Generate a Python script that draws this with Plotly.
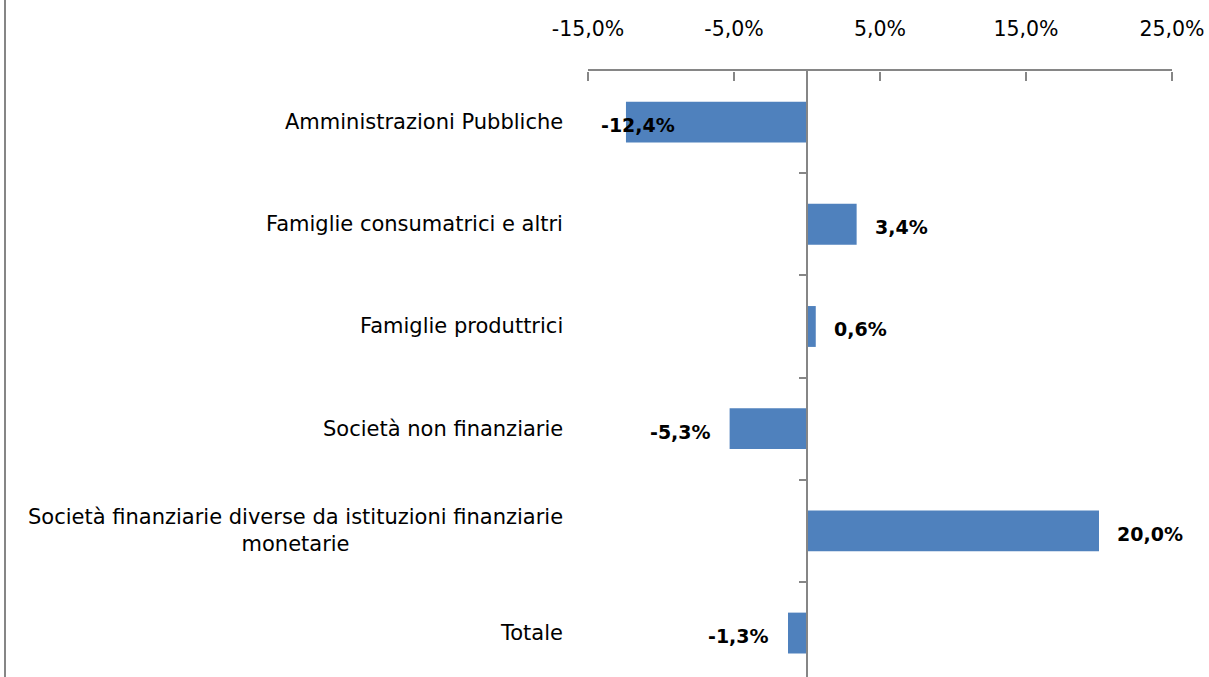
import plotly.graph_objects as go

categories = [
    "Amministrazioni Pubbliche",
    "Famiglie consumatrici e altri",
    "Famiglie produttrici",
    "Società non finanziarie",
    "Società finanziarie diverse da istituzioni finanziarie<br>monetarie",
    "Totale",
]
values = [-12.4, 3.4, 0.6, -5.3, 20.0, -1.3]
tick_values = [-15, -5, 5, 15, 25]
x_min, x_max = -15, 25


def fmt(v):
    return f"{v:.1f}".replace(".", ",") + "%"


tick_text = [fmt(v) for v in tick_values]

W, H = 1209, 677
ML, MR, MT, MB = 588, 37, 71, 0
AXIS_GRAY = "#868686"
BAR_COLOR = "#4F81BD"
FONT = "DejaVu Sans"

fig = go.Figure()
fig.add_trace(go.Bar(
    x=values,
    y=list(range(len(categories))),
    orientation="h",
    width=0.4,
    marker=dict(color=BAR_COLOR, line=dict(width=0)),
    hoverinfo="skip",
))
# invisible trace carrying the tick-mark axis (ticks pointing into the plot)
fig.add_trace(go.Scatter(
    x=values, y=list(range(len(categories))), xaxis="x2", yaxis="y",
    mode="none", showlegend=False, hoverinfo="skip",
))

annotations = []
# category labels
for i, c in enumerate(categories):
    annotations.append(dict(
        x=0, xref="paper", y=i, yref="y", text=c, showarrow=False,
        xanchor="right", yanchor="middle", align="center", xshift=-23,
        font=dict(family=FONT, size=21, color="#000000"),
    ))
# data labels
for i, v in enumerate(values):
    if v >= 0:
        ax, anchor, shift = v, "left", 16
    elif v < x_min + 5:
        ax, anchor, shift = x_min, "left", 11
    else:
        ax, anchor, shift = v, "right", -17
    annotations.append(dict(
        x=ax, xref="x", y=i, yref="y", text="<b>" + fmt(v) + "</b>",
        showarrow=False, xanchor=anchor, yanchor="middle", xshift=shift,
        yshift=-3, font=dict(family=FONT, size=19, color="#000000"),
    ))

plot_w = W - ML - MR
plot_h = H - MT - MB
fig.update_layout(
    width=W, height=H,
    margin=dict(l=ML, r=MR, t=MT, b=MB, pad=0),
    paper_bgcolor="white", plot_bgcolor="white",
    showlegend=False,
    font=dict(family=FONT, size=20, color="#000000"),
    annotations=annotations,
    xaxis=dict(
        side="top", range=[x_min, x_max],
        tickvals=tick_values, ticktext=tick_text,
        showgrid=False, zeroline=False, showline=True, linecolor=AXIS_GRAY,
        linewidth=1.5, ticks="", ticklabelstandoff=25,
        tickfont=dict(family=FONT, size=20.5, color="#000000"),
        domain=[0, 1],
    ),
    xaxis2=dict(
        overlaying="x", matches="x", anchor="free", position=1, side="bottom",
        range=[x_min, x_max], tickvals=tick_values, showticklabels=False,
        showgrid=False, zeroline=False, showline=False,
        ticks="outside", ticklen=9, tickcolor=AXIS_GRAY, tickwidth=1.5,
    ),
    yaxis=dict(
        range=[5.43, -0.5], tickmode="array",
        tickvals=[i + 0.5 for i in range(len(categories) - 1)],
        showticklabels=False, showgrid=False, zeroline=False,
        anchor="free", position=(0 - x_min) / (x_max - x_min),
        showline=True, linecolor=AXIS_GRAY, linewidth=1.5,
        ticks="outside", ticklen=7, tickcolor=AXIS_GRAY, tickwidth=1.5,
    ),
    shapes=[dict(
        type="line", xref="paper", yref="paper",
        x0=(5 - ML) / plot_w, x1=(5 - ML) / plot_w,
        y0=-0.01, y1=1 + MT / plot_h + 0.01,
        line=dict(color=AXIS_GRAY, width=2),
    )],
)

fig.write_html(
    "out.html",
    config={"displayModeBar": False},
    post_script="document.body.style.margin='0';document.body.style.overflow='hidden';",
)
